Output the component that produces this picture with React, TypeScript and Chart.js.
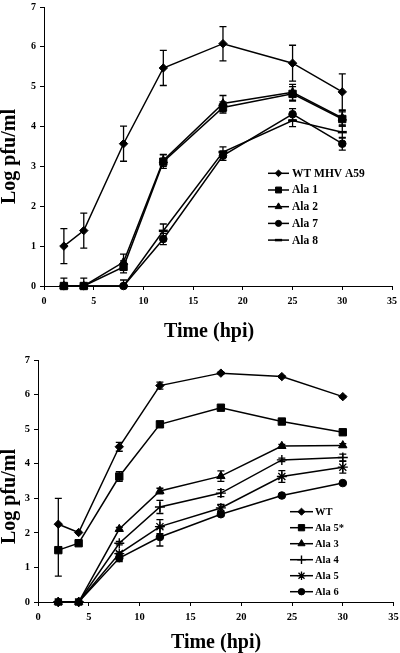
import React, { useEffect, useRef } from "react";
import { Chart, registerables } from "chart.js";
import { drawPoint } from "chart.js/helpers";

Chart.register(...registerables);

const SERIF = '"Liberation Serif", "Times New Roman", serif';

// ---------- Tick values ----------
const xTickValues = [0, 5, 10, 15, 20, 25, 30, 35];
const yTickValues = [0, 1, 2, 3, 4, 5, 6, 7];

// ---------- Top panel data ----------
const topTimes = [2, 4, 8, 12, 18, 25, 30];
const topLabels = ["WT MHV A59", "Ala 1", "Ala 2", "Ala 7", "Ala 8"];
const topWT = [1.0, 1.39, 3.57, 5.47, 6.08, 5.59, 4.87];
const topWTErr = [0.44, 0.44, 0.44, 0.44, 0.43, 0.45, 0.45];
const topAla1 = [0, 0, 0.48, 3.12, 4.48, 4.82, 4.19];
const topAla1Err = [0.2, 0.2, 0.15, 0.17, 0.14, 0.18, 0.18];
const topAla2 = [0, 0, 0.6, 3.15, 4.58, 4.86, 4.22];
const topAla2Err = [0, 0, 0.2, 0.15, 0.2, 0.2, 0.18];
const topAla7 = [0, 0, 0, 1.18, 3.27, 4.31, 3.57];
const topAla7Err = [0, 0, 0.15, 0.14, 0.12, 0.14, 0.16];
const topAla8 = [0, 0, 0, 1.385, 3.36, 4.15, 3.86];
const topAla8Err = [0, 0, 0, 0.17, 0.13, 0.15, 0.15];

// ---------- Bottom panel data ----------
const botTimes = [2, 4, 8, 12, 18, 24, 30];
const botLabels = ["WT", "Ala 5*", "Ala 3", "Ala 4", "Ala 5", "Ala 6"];
const botWT = [2.25, 2.01, 4.49, 6.26, 6.62, 6.52, 5.94];
const botWTErr = [0.75, 0, 0.13, 0.1, 0.03, 0.03, 0.03];
const botAla5s = [1.5, 1.7, 3.63, 5.14, 5.62, 5.22, 4.91];
const botAla5sErr = [0.75, 0, 0.14, 0.08, 0, 0, 0];
const botAla3 = [0, 0, 2.11, 3.21, 3.64, 4.51, 4.53];
const botAla3Err = [0, 0, 0.05, 0.08, 0.15, 0.05, 0.05];
const botAla4 = [0, 0, 1.7, 2.75, 3.15, 4.11, 4.18];
const botAla4Err = [0, 0, 0.05, 0.19, 0.1, 0.05, 0.1];
const botAla5 = [0, 0, 1.4, 2.18, 2.72, 3.63, 3.9];
const botAla5Err = [0, 0, 0.05, 0.2, 0.1, 0.17, 0.17];
const botAla6 = [0, 0, 1.27, 1.88, 2.54, 3.08, 3.44];
const botAla6Err = [0, 0, 0.1, 0.26, 0.05, 0.03, 0.03];

const xTitle = "Time (hpi)";
const yTitle = "Log pfu/ml";

// ---------- Plugins ----------
const errorBarPlugin = {
  id: "errorBars",
  afterDatasetsDraw(chart: any) {
    const ctx = chart.ctx;
    const yScale = chart.scales.y;
    const area = chart.chartArea;
    ctx.save();
    ctx.beginPath();
    ctx.rect(area.left - 10, area.top - 10, area.right - area.left + 20, area.bottom - area.top + 10);
    ctx.clip();
    ctx.strokeStyle = "#000";
    ctx.lineWidth = 1.3;
    chart.data.datasets.forEach((ds: any, i: number) => {
      const errs = ds.errors;
      if (!errs) return;
      const meta = chart.getDatasetMeta(i);
      meta.data.forEach((pt: any, j: number) => {
        const e = errs[j];
        if (!e) return;
        const v = ds.data[j].y;
        const yTop = yScale.getPixelForValue(v + e);
        const yBot = yScale.getPixelForValue(v - e);
        const x = pt.x;
        const cap = 3.5;
        ctx.beginPath();
        ctx.moveTo(x, yTop);
        ctx.lineTo(x, yBot);
        ctx.moveTo(x - cap, yTop);
        ctx.lineTo(x + cap, yTop);
        ctx.moveTo(x - cap, yBot);
        ctx.lineTo(x + cap, yBot);
        ctx.stroke();
      });
    });
    ctx.restore();
  },
};

const innerLegendPlugin = {
  id: "innerLegend",
  afterDraw(chart: any, _args: any, o: any) {
    const ctx = chart.ctx;
    ctx.save();
    chart.data.datasets.forEach((ds: any, i: number) => {
      const cy = o.y + i * o.rowH;
      ctx.strokeStyle = "#000";
      ctx.lineWidth = 1.5;
      ctx.beginPath();
      ctx.moveTo(o.x, cy);
      ctx.lineTo(o.x + o.lineLen, cy);
      ctx.stroke();
      ctx.fillStyle = "#000";
      ctx.strokeStyle = "#000";
      ctx.lineWidth = ds.pointBorderWidth;
      drawPoint(
        ctx,
        { pointStyle: ds.pointStyle, radius: ds.pointRadius * o.scale, borderWidth: ds.pointBorderWidth, rotation: 0 },
        o.x + o.lineLen / 2,
        cy
      );
      ctx.font = `bold ${o.fontSize}px ${SERIF}`;
      ctx.textBaseline = "middle";
      ctx.textAlign = "left";
      ctx.fillStyle = "#000";
      ctx.fillText(ds.label, o.x + o.lineLen + o.gap, cy + 0.5);
    });
    ctx.restore();
  },
};

const axisTitlePlugin = {
  id: "axisTitles",
  afterDraw(chart: any, _args: any, o: any) {
    const ctx = chart.ctx;
    ctx.save();
    ctx.fillStyle = "#000";
    ctx.font = `bold ${o.size}px ${SERIF}`;
    ctx.textAlign = "center";
    ctx.textBaseline = "alphabetic";
    ctx.fillText(xTitle, o.xX, o.xY);
    ctx.translate(o.yX, o.yY);
    ctx.rotate(-Math.PI / 2);
    ctx.fillText(yTitle, 0, 0);
    ctx.restore();
  },
};

// ---------- Helpers ----------
const styles: Record<string, { pointStyle: string; pointRadius: number; pointBorderWidth: number }> = {
  diamond: { pointStyle: "rectRot", pointRadius: 4.2, pointBorderWidth: 1 },
  square: { pointStyle: "rect", pointRadius: 5.2, pointBorderWidth: 1 },
  triangle: { pointStyle: "triangle", pointRadius: 4.8, pointBorderWidth: 1 },
  circle: { pointStyle: "circle", pointRadius: 3.8, pointBorderWidth: 1 },
  dash: { pointStyle: "line", pointRadius: 4.5, pointBorderWidth: 2.5 },
  cross: { pointStyle: "cross", pointRadius: 5, pointBorderWidth: 1.4 },
  star: { pointStyle: "star", pointRadius: 5, pointBorderWidth: 1.3 },
};

function makeDataset(label: string, times: number[], vals: number[], errs: number[], style: string) {
  const s = styles[style];
  return {
    label,
    data: times.map((t, i) => ({ x: t, y: vals[i] })),
    errors: errs,
    borderColor: "#000",
    backgroundColor: "#000",
    borderWidth: 1.5,
    pointStyle: s.pointStyle,
    pointRadius: s.pointRadius,
    pointHoverRadius: s.pointRadius,
    pointBorderWidth: s.pointBorderWidth,
    pointBackgroundColor: "#000",
    pointBorderColor: "#000",
    tension: 0,
    clip: false,
  };
}

function makeConfig(
  datasets: any[],
  p: { yWidth: number; xHeight: number; padTop: number; padRight: number; tickSize: number; legend: any; titles: any }
) {
  const tickFont = { family: SERIF, size: p.tickSize, weight: "bold" as const };
  return {
    type: "line" as const,
    data: { datasets },
    options: {
      responsive: false,
      maintainAspectRatio: false,
      animation: false as const,
      events: [],
      layout: { padding: { top: p.padTop, right: p.padRight, left: 0, bottom: 0 } },
      plugins: {
        legend: { display: false },
        tooltip: { enabled: false },
        innerLegend: p.legend,
        axisTitles: p.titles,
      },
      scales: {
        x: {
          type: "linear" as const,
          min: 0,
          max: 35,
          afterBuildTicks: (s: any) => {
            s.ticks = xTickValues.map((v) => ({ value: v }));
          },
          afterFit: (s: any) => {
            s.height = p.xHeight;
            s.paddingLeft = 0;
            s.paddingRight = 0;
          },
          grid: { display: true, drawOnChartArea: false, drawTicks: true, tickLength: 4, color: "#000", lineWidth: 1 },
          border: { display: true, color: "#000", width: 1 },
          ticks: { font: tickFont, color: "#000", padding: 5, maxRotation: 0, autoSkip: false },
          title: { display: false },
        },
        y: {
          type: "linear" as const,
          min: 0,
          max: 7,
          afterBuildTicks: (s: any) => {
            s.ticks = yTickValues.map((v) => ({ value: v }));
          },
          afterFit: (s: any) => {
            s.width = p.yWidth;
            s.paddingTop = 0;
            s.paddingBottom = 0;
          },
          grid: { display: true, drawOnChartArea: false, drawTicks: true, tickLength: 4, color: "#000", lineWidth: 1 },
          border: { display: true, color: "#000", width: 1 },
          ticks: { font: tickFont, color: "#000", padding: 4, autoSkip: false },
          title: { display: false },
        },
      },
    },
    plugins: [errorBarPlugin, innerLegendPlugin, axisTitlePlugin],
  };
}

const topDatasets = [
  makeDataset(topLabels[0], topTimes, topWT, topWTErr, "diamond"),
  makeDataset(topLabels[1], topTimes, topAla1, topAla1Err, "square"),
  makeDataset(topLabels[2], topTimes, topAla2, topAla2Err, "triangle"),
  makeDataset(topLabels[3], topTimes, topAla7, topAla7Err, "circle"),
  makeDataset(topLabels[4], topTimes, topAla8, topAla8Err, "dash"),
];

const botDatasets = [
  makeDataset(botLabels[0], botTimes, botWT, botWTErr, "diamond"),
  makeDataset(botLabels[1], botTimes, botAla5s, botAla5sErr, "square"),
  makeDataset(botLabels[2], botTimes, botAla3, botAla3Err, "triangle"),
  makeDataset(botLabels[3], botTimes, botAla4, botAla4Err, "cross"),
  makeDataset(botLabels[4], botTimes, botAla5, botAla5Err, "star"),
  makeDataset(botLabels[5], botTimes, botAla6, botAla6Err, "circle"),
];

const TOP_H = 348;
const BOT_H = 305;

function Panel({ config, top, height }: { config: any; top: number; height: number }) {
  const ref = useRef<HTMLCanvasElement>(null);
  useEffect(() => {
    const chart = new Chart(ref.current as HTMLCanvasElement, config);
    return () => chart.destroy();
  }, []);
  return (
    <canvas
      ref={ref}
      width={400}
      height={height}
      style={{ position: "absolute", left: 0, top, width: 400, height, display: "block" }}
    />
  );
}

export default function App() {
  const topConfig = makeConfig(topDatasets, {
    yWidth: 44,
    xHeight: TOP_H - 286,
    padTop: 3,
    padRight: 8,
    tickSize: 10,
    legend: { x: 268, y: 173.3, rowH: 16.7, lineLen: 21, gap: 3, fontSize: 11.5, scale: 0.8 },
    titles: { size: 20, xX: 209, xY: 337, yX: 15, yY: 156.5 },
  });
  const botConfig = makeConfig(botDatasets, {
    yWidth: 38,
    xHeight: BOT_H - 254,
    padTop: 12,
    padRight: 5,
    tickSize: 10.5,
    legend: { x: 290, y: 163.7, rowH: 16, lineLen: 23, gap: 2, fontSize: 10.5, scale: 0.85 },
    titles: { size: 20, xX: 216, xY: 300, yX: 15, yY: 148.5 },
  });
  return (
    <div style={{ position: "fixed", left: 0, top: 0, width: 400, height: 653, background: "#fff", overflow: "hidden" }}>
      <Panel config={topConfig} top={0} height={TOP_H} />
      <Panel config={botConfig} top={TOP_H} height={BOT_H} />
    </div>
  );
}
